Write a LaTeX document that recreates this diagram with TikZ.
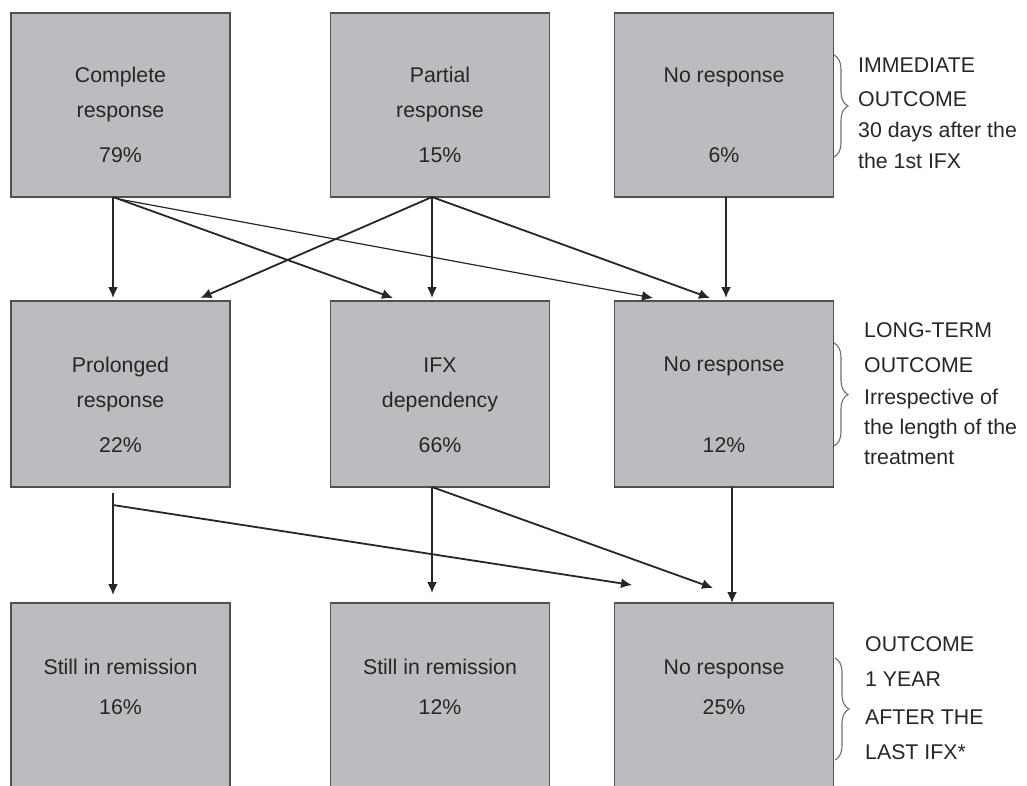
\documentclass[tikz,border=0pt]{standalone}
\usepackage{fontspec}
\setmainfont{Liberation Sans}
\usetikzlibrary{arrows.meta,decorations.pathreplacing,calc}
\definecolor{boxfill}{RGB}{187,188,192}
\definecolor{boxline}{RGB}{80,80,82}
\definecolor{ink}{RGB}{38,38,38}
\definecolor{bracecol}{RGB}{110,110,110}
\begin{document}
\begin{tikzpicture}[x=1pt,y=-1pt,
  box/.style={draw=boxline, fill=boxfill, line width=1.5pt, minimum width=219pt,
    inner sep=0pt, outer sep=0pt, anchor=north west},
  txt/.style={anchor=base, inner sep=0pt, text=ink, font=\fontsize{21.3}{25}\selectfont},
  side/.style={anchor=base west, inner sep=0pt, text=ink, font=\fontsize{21.3}{25}\selectfont},
  conn/.style={draw=ink, line width=1.8pt, -{Latex[length=11pt,width=10pt]}},
  thinconn/.style={draw=ink, line width=1.2pt, -{Latex[length=11pt,width=10pt]}},
  bracestyle/.style={draw=bracecol, line width=1.1pt,
    decorate, decoration={brace, amplitude=14pt}}]
\useasboundingbox (0,0) rectangle (1027,785);

% boxes
\node[box, minimum height=184pt] (b11) at (11,13) {};
\node[box, minimum height=184pt] (b12) at (330.5,13) {};
\node[box, minimum height=184pt] (b13) at (614.5,13) {};
\node[box, minimum height=186pt] (b21) at (11,301) {};
\node[box, minimum height=186pt] (b22) at (330.5,301) {};
\node[box, minimum height=186pt] (b23) at (614.5,301) {};
\node[box, minimum height=210pt] (b31) at (11,603) {};
\node[box, minimum height=210pt] (b32) at (330.5,603) {};
\node[box, minimum height=210pt] (b33) at (614.5,603) {};

% box texts
\node[txt] (t11a) at (120.5,82) {Complete};
\node[txt] (t11b) at (120.5,117) {response};
\node[txt] (t11c) at (120.5,162) {79\%};
\node[txt] (t12a) at (440,82) {Partial};
\node[txt] (t12b) at (440,117) {response};
\node[txt] (t12c) at (440,162) {15\%};
\node[txt] (t13a) at (724,82) {No response};
\node[txt] (t13c) at (724,162) {6\%};

\node[txt] (t21a) at (120.5,372) {Prolonged};
\node[txt] (t21b) at (120.5,407) {response};
\node[txt] (t21c) at (120.5,452) {22\%};
\node[txt] (t22a) at (440,372) {IFX};
\node[txt] (t22b) at (440,407) {dependency};
\node[txt] (t22c) at (440,452) {66\%};
\node[txt] (t23a) at (724,371) {No response};
\node[txt] (t23c) at (724,452) {12\%};

\node[txt] (t31a) at (120.5,674) {Still in remission};
\node[txt] (t31c) at (120.5,714) {16\%};
\node[txt] (t32a) at (440,674) {Still in remission};
\node[txt] (t32c) at (440,714) {12\%};
\node[txt] (t33a) at (724,674) {No response};
\node[txt] (t33c) at (724,714) {25\%};

% side labels
\node[side] (s1a) at (858,72) {IMMEDIATE};
\node[side] (s1b) at (858,106) {OUTCOME};
\node[side] (s1c) at (858,137) {30 days after the};
\node[side] (s1d) at (858,168) {the 1st IFX};
\node[side] (s2a) at (864,337) {LONG-TERM};
\node[side] (s2b) at (864,372) {OUTCOME};
\node[side] (s2c) at (864,404) {Irrespective of};
\node[side] (s2d) at (864,434) {the length of the};
\node[side] (s2e) at (864,464) {treatment};
\node[side] (s3a) at (865,651) {OUTCOME};
\node[side] (s3b) at (865,686) {1 YEAR};
\node[side] (s3c) at (865,724) {AFTER THE};
\node[side] (s3d) at (865,759) {LAST IFX*};

% braces
\coordinate (br1t) at (834,55);
\coordinate (br1b) at (834,157);
\coordinate (br2t) at (834,343);
\coordinate (br2b) at (834,446);
\coordinate (br3t) at (835,658);
\coordinate (br3b) at (835,760);
\draw[bracestyle] (br1t) -- (br1b);
\draw[bracestyle] (br2t) -- (br2b);
\draw[bracestyle] (br3t) -- (br3b);

% row 1 -> row 2
\draw[conn] ([xshift=-7.5pt]b11.south) -- ([xshift=-7.5pt,yshift=3pt]b21.north);
\draw[conn] ([xshift=-7.5pt]b11.south) -- ([xshift=-47pt,yshift=3pt]b22.north);
\draw[thinconn] ([xshift=-2pt,yshift=-2pt]b11.south) -- ([xshift=-71pt,yshift=3pt]b23.north);
\draw[conn] ([xshift=-8pt]b12.south) -- ([xshift=80pt,yshift=3pt]b21.north);
\draw[conn] ([xshift=-8pt]b12.south) -- ([xshift=-8pt,yshift=3pt]b22.north);
\draw[conn] ([xshift=-8pt]b12.south) -- ([xshift=-14pt,yshift=3pt]b23.north);
\draw[conn] ([xshift=2pt]b13.south) -- ([xshift=2pt,yshift=3pt]b23.north);

% row 2 -> row 3
\coordinate (f1) at (632,585);
\coordinate (f2) at (713,588);
\draw[conn] ([xshift=-7.5pt,yshift=-6pt]b21.south) -- ([xshift=-7.5pt,yshift=8pt]b31.north);
\draw[conn] ([xshift=-7.5pt,yshift=-18pt]b21.south) -- (f1);
\draw[conn] ([xshift=-8pt]b22.south) -- ([xshift=-8pt,yshift=10pt]b32.north);
\draw[conn] ([xshift=-8pt]b22.south) -- (f2);
\draw[conn] ([xshift=8pt]b23.south) -- ([xshift=8pt]b33.north);
\end{tikzpicture}
\end{document}
